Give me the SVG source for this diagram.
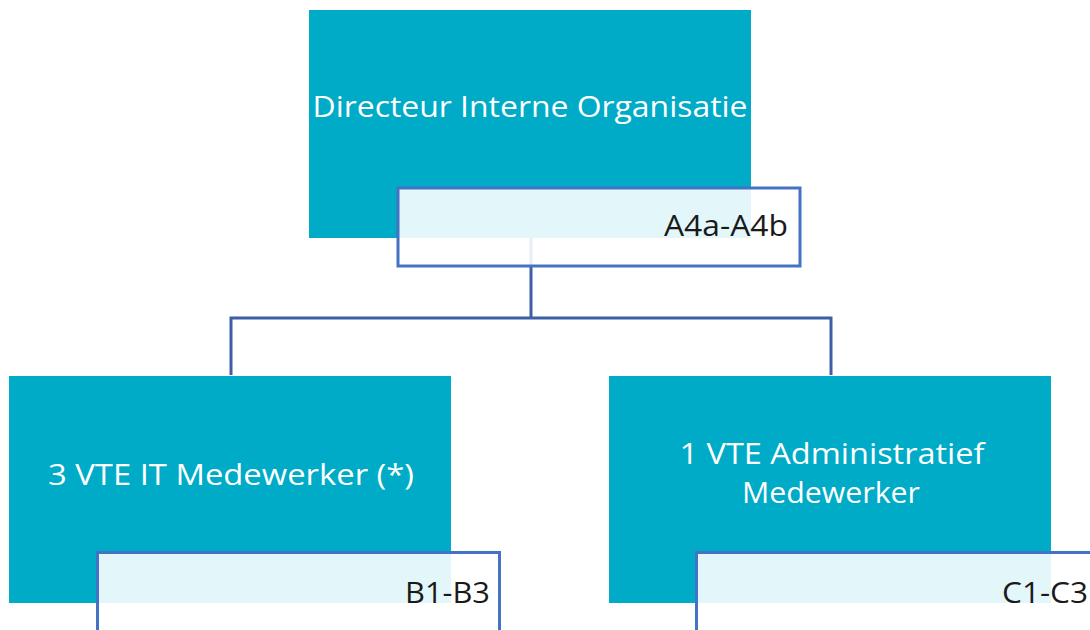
<svg xmlns="http://www.w3.org/2000/svg" width="1090" height="630" viewBox="0 0 1090 630">
<style>
.box{fill:#00ABC7;}
.lbl{fill:#FFFFFF;fill-opacity:0.89;stroke:#4472C4;stroke-width:3;}
.t{font-family:"Open Sans","Liberation Sans",sans-serif;font-size:30px;fill:#FFFFFF;text-anchor:middle;}
.c{font-family:"Open Sans","Liberation Sans",sans-serif;font-size:30px;fill:#1A1A1A;text-anchor:end;}
.conn{fill:none;stroke:#3E5FA6;stroke-width:3;}
</style>
<rect width="1090" height="630" fill="#FFFFFF"/>
<g id="connectors">
<path class="conn" d="M531,238 V318 M231,318 H831 M231,316.5 V375 M831,316.5 V375"/>
</g>
<g id="node-directeur">
<rect class="box" x="309" y="10" width="442" height="228"/>
<text class="t" x="530" y="117" textLength="435" lengthAdjust="spacingAndGlyphs">Directeur Interne Organisatie</text>
<rect class="lbl" x="398" y="188" width="402" height="78"/>
<text class="c" x="788" y="236" textLength="124" lengthAdjust="spacingAndGlyphs">A4a-A4b</text>
</g>
<g id="node-it">
<rect class="box" x="9" y="376" width="442" height="227"/>
<text class="t" x="231" y="485" textLength="366" lengthAdjust="spacingAndGlyphs">3 VTE IT Medewerker (*)</text>
<rect class="lbl" x="97.5" y="552.5" width="402" height="80"/>
<text class="c" x="490" y="603" textLength="85" lengthAdjust="spacingAndGlyphs">B1-B3</text>
</g>
<g id="node-admin">
<rect class="box" x="609" y="376" width="442" height="227"/>
<text class="t" x="832" y="464" textLength="305" lengthAdjust="spacingAndGlyphs">1 VTE Administratief</text>
<text class="t" x="831" y="503" textLength="178" lengthAdjust="spacingAndGlyphs">Medewerker</text>
<rect class="lbl" x="696.5" y="552.5" width="402" height="80"/>
<text class="c" x="1088" y="603" textLength="86" lengthAdjust="spacingAndGlyphs">C1-C3</text>
</g>
</svg>
